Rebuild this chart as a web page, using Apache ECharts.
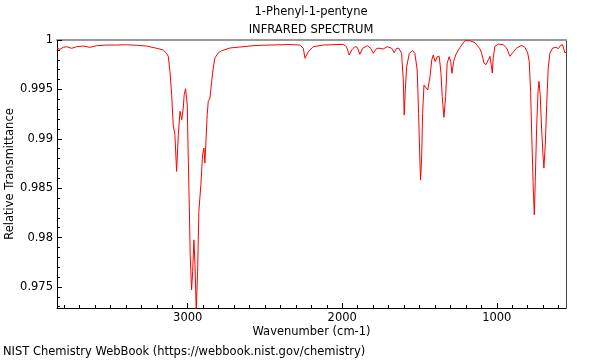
<!DOCTYPE html>
<html>
<head>
<meta charset="utf-8">
<script src="https://cdn.jsdelivr.net/npm/echarts@6/dist/echarts.min.js"></script>
<style>html,body{margin:0;padding:0;background:#fff}#c{width:600px;height:360px}</style>
</head>
<body>
<div id="c"></div>
<script>
var chartTitle = '1-Phenyl-1-pentyne';
var chartSubtitle = 'INFRARED SPECTRUM';
var xName = 'Wavenumber (cm-1)';
var yName = 'Relative Transmittance';
var footer = 'NIST Chemistry WebBook (https://webbook.nist.gov/chemistry)';

var wavenumber = [3845,3827,3806,3784,3751,3719,3676,3633,3590,3525,3460,3395,3331,3266,3201,3159,3137,3126,3115,3104,3094,3083,3072,3061,3050,3039,3029,3023,3014,3003,2997,2990,2984,2975,2968,2960,2953,2945,2936,2928,2915,2904,2895,2889,2882,2874,2867,2856,2845,2835,2824,2803,2781,2759,2727,2662,2565,2468,2339,2274,2252,2241,2220,2188,2123,1994,1972,1955,1939,1918,1903,1886,1868,1838,1816,1799,1777,1756,1735,1709,1680,1664,1648,1633,1616,1605,1599,1592,1583,1566,1544,1530,1515,1506,1497,1493,1486,1480,1471,1460,1447,1432,1421,1411,1398,1385,1372,1361,1353,1342,1331,1321,1308,1298,1290,1279,1266,1249,1227,1206,1174,1141,1109,1098,1083,1070,1055,1044,1036,1029,1023,1012,990,958,936,915,893,871,839,818,800,790,781,772,764,757,751,742,733,727,719,710,701,695,686,677,667,656,638,617,602,587,574,565,559,552];
var transmittance = [0.99916,0.99906,0.99926,0.99932,0.99916,0.99932,0.99939,0.99926,0.99942,0.99949,0.99949,0.99952,0.99946,0.99939,0.99916,0.99899,0.99865,0.99835,0.99683,0.99446,0.99142,0.99041,0.98670,0.99041,0.99278,0.99193,0.99311,0.99446,0.99507,0.99345,0.98838,0.98332,0.97825,0.97470,0.97657,0.97977,0.97724,0.97260,0.97660,0.98265,0.98534,0.98838,0.98906,0.98754,0.98974,0.99243,0.99379,0.99412,0.99582,0.99716,0.99818,0.99868,0.99892,0.99902,0.99919,0.99929,0.99944,0.99949,0.99954,0.99949,0.99916,0.99815,0.99881,0.99932,0.99949,0.99956,0.99932,0.99848,0.99899,0.99932,0.99926,0.99855,0.99916,0.99942,0.99916,0.99865,0.99916,0.99916,0.99909,0.99932,0.99916,0.99871,0.99916,0.99916,0.99865,0.99595,0.99240,0.99494,0.99730,0.99865,0.99892,0.99865,0.99696,0.99257,0.98751,0.98582,0.98818,0.99257,0.99544,0.99544,0.99494,0.99628,0.99797,0.99848,0.99780,0.99831,0.99831,0.99663,0.99426,0.99217,0.99426,0.99764,0.99831,0.99780,0.99663,0.99780,0.99848,0.99899,0.99949,0.99993,0.99993,0.99973,0.99910,0.99868,0.99767,0.99750,0.99800,0.99835,0.99750,0.99666,0.99818,0.99936,0.99959,0.99952,0.99919,0.99835,0.99878,0.99919,0.99946,0.99926,0.99868,0.99784,0.99480,0.98939,0.98501,0.98230,0.98569,0.99109,0.99480,0.99582,0.99446,0.99109,0.98838,0.98703,0.98939,0.99345,0.99716,0.99868,0.99919,0.99926,0.99912,0.99946,0.99952,0.99936,0.99868,0.99880];

var xMajorTicks = [1000, 2000, 3000];
var xMinorTicks = [600,700,800,900,1100,1200,1300,1400,1500,1600,1700,1800,1900,2100,2200,2300,2400,2500,2600,2700,2800,2900,3100,3200,3300,3400,3500,3600,3700,3800];
var yMajorTicks = [0.975, 0.98, 0.985, 0.99, 0.995, 1];
var yMinorTicks = [0.973,0.974,0.976,0.977,0.978,0.979,0.981,0.982,0.983,0.984,0.986,0.987,0.988,0.989,0.991,0.992,0.993,0.994,0.996,0.997,0.998,0.999];

var xMin = 552, xMax = 3846, yMin = 0.97287, yMax = 1.0;

var FONT = 'DejaVu Sans';
var FS = 11.5;
var points = wavenumber.map(function (w, i) { return [w, transmittance[i]]; });

var chart = echarts.init(document.getElementById('c'), null, {renderer: 'canvas'});
var baseX = {type: 'value', min: xMin, max: xMax, inverse: true, splitLine: {show: false}};
var baseY = {type: 'value', min: yMin, max: yMax, splitLine: {show: false}};
function ext(a, b) { return Object.assign({}, a, b); }
var ts = {fontFamily: FONT, fontSize: FS, fontWeight: 'normal', color: '#000'};

chart.setOption({
  animation: false,
  backgroundColor: '#fff',
  title: [
    {text: chartTitle, left: 311, top: 6, padding: 0, textAlign: 'center', textStyle: ts},
    {text: chartSubtitle, left: 311, top: 24, padding: 0, textAlign: 'center', textStyle: ts},
    {text: footer, left: 3, top: 346, padding: 0, textStyle: ts}
  ],
  grid: {left: 57, right: 34, top: 40, bottom: 52, containLabel: false, outerBoundsMode: 'none'},
  xAxis: [
    ext(baseX, {position: 'bottom',
      axisLine: {show: true, lineStyle: {color: '#000', width: 1}},
      axisTick: {show: true, inside: true, length: 5, customValues: xMajorTicks, lineStyle: {color: '#000'}},
      axisLabel: {show: true, customValues: xMajorTicks, margin: 4, color: '#000', fontFamily: FONT, fontSize: FS,
        formatter: function (v) { return String(v); }},
      name: xName, nameLocation: 'middle', nameGap: 18, nameMoveOverlap: false,
      nameTextStyle: {fontFamily: FONT, fontSize: FS, color: '#000'}}),
    ext(baseX, {position: 'bottom',
      axisLine: {show: false},
      axisTick: {show: true, inside: true, length: 3, customValues: xMinorTicks, lineStyle: {color: '#000'}},
      axisLabel: {show: false}}),
    ext(baseX, {position: 'top',
      axisLine: {show: true, lineStyle: {color: '#999', width: 2}},
      axisTick: {show: false}, axisLabel: {show: false}})
  ],
  yAxis: [
    ext(baseY, {position: 'left',
      axisLine: {show: true, lineStyle: {color: '#000', width: 1}},
      axisTick: {show: true, inside: true, length: 5, customValues: yMajorTicks, lineStyle: {color: '#000'}},
      axisLabel: {show: true, customValues: yMajorTicks, margin: 4, color: '#000', fontFamily: FONT, fontSize: FS,
        formatter: function (v) { return String(parseFloat(Number(v).toFixed(4))); }},
      name: yName, nameLocation: 'middle', nameGap: 41, nameRotate: 90, nameMoveOverlap: false,
      nameTextStyle: {fontFamily: FONT, fontSize: FS, color: '#000'}}),
    ext(baseY, {position: 'left',
      axisLine: {show: false},
      axisTick: {show: true, inside: true, length: 3, customValues: yMinorTicks, lineStyle: {color: '#000'}},
      axisLabel: {show: false}}),
    ext(baseY, {position: 'right',
      axisLine: {show: true, lineStyle: {color: '#444', width: 1}},
      axisTick: {show: false}, axisLabel: {show: false}})
  ],
  series: [{
    type: 'line', xAxisIndex: 0, yAxisIndex: 0, data: points,
    showSymbol: false, symbol: 'none', clip: true, smooth: false,
    lineStyle: {color: '#ff0000', width: 1}
  }]
});
</script>
</body>
</html>
